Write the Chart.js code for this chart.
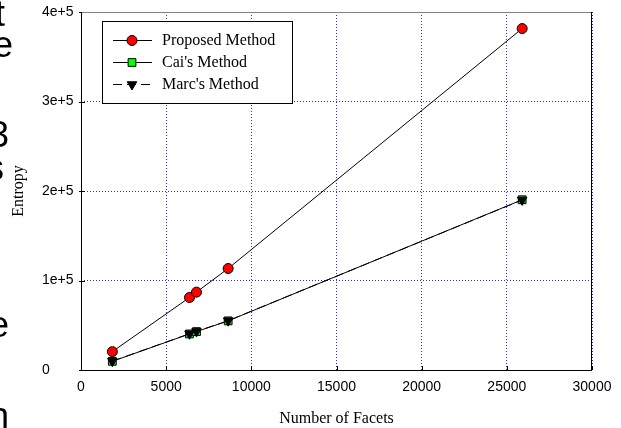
<!DOCTYPE html>
<html>
<head>
<meta charset="utf-8">
<script src="https://cdn.jsdelivr.net/npm/chart.js@4.4.0/dist/chart.umd.min.js"></script>
<style>
  body { margin: 0; background: #fff; overflow: hidden; }
  #contenedor { position: relative; width: 621px; height: 428px; }
  .letra { position: absolute; font-family: "Liberation Sans", Arial, sans-serif; font-size: 36px; line-height: 36px; color: #000; }
</style>
</head>
<body>
<div id="contenedor">
  <canvas id="grafica" width="621" height="428"></canvas>
  <!-- restos del texto de la pagina, cortados por el borde -->
  <span class="letra" style="left:-5px; top:-4px;">t</span>
  <span class="letra" style="left:-7px; top:27px;">e</span>
  <span class="letra" style="left:-11px; top:117px;">3</span>
  <span class="letra" style="left:-14px; top:150px;">s</span>
  <span class="letra" style="left:-11px; top:307px;">e</span>
  <span class="letra" style="left:-11px; top:398px;">n</span>
</div>
<script>
  //Datos Proposed Method
  const facetas_propuesto = [1840, 6370, 6780, 8640, 25900]
  const entropia_propuesto = [20500, 81000, 87000, 113400, 381500]
  //Datos Cai's Method
  const facetas_cai = [1840, 6370, 6780, 8640, 25900]
  const entropia_cai = [9700, 40300, 42900, 54900, 190200]
  //Datos Marc's Method
  const facetas_marc = [1840, 6370, 6780, 8640, 25900]
  const entropia_marc = [9900, 40500, 43100, 55100, 190000]

  const etiquetas = ["Proposed Method", "Cai's Method", "Marc's Method"]
  const etiquetas_x = ["0", "5000", "10000", "15000", "20000", "25000", "30000"]
  const etiquetas_y = ["0", "1e+5", "2e+5", "3e+5", "4e+5"]

  const $grafica = document.querySelector("#grafica");

  let puntos = function(xs, ys) {
      return xs.map(function(x, i) { return { x: x, y: ys[i] }; });
  }

  ///////////////////////////////////// bordes, marcas, titulos y leyenda /////////////////////////////////////
  const extras = {
      id: 'extras',
      afterDraw: function(chart) {
          const ctx = chart.ctx;
          const a = chart.chartArea;
          const sx = chart.scales.x, sy = chart.scales.y;
          ctx.save();
          // marcas hacia dentro
          ctx.strokeStyle = '#000';
          ctx.lineWidth = 1;
          ctx.beginPath();
          sx.ticks.forEach(function(t) {
              const px = Math.round(sx.getPixelForValue(t.value)) + 0.5;
              ctx.moveTo(px, a.bottom); ctx.lineTo(px, a.bottom - 4);
          });
          sy.ticks.forEach(function(t) {
              const py = Math.round(sy.getPixelForValue(t.value)) + 0.5;
              ctx.moveTo(a.left - 2, py); ctx.lineTo(a.left + 4, py);
          });
          ctx.stroke();
          // marco
          ctx.strokeStyle = '#808080';
          ctx.beginPath();
          ctx.moveTo(a.left, a.top + 0.5); ctx.lineTo(a.right, a.top + 0.5);
          ctx.stroke();
          ctx.strokeStyle = '#000';
          ctx.beginPath();
          ctx.moveTo(a.left + 0.5, a.top); ctx.lineTo(a.left + 0.5, a.bottom + 0.5);
          ctx.lineTo(a.right - 0.5, a.bottom + 0.5); ctx.lineTo(a.right - 0.5, a.top);
          ctx.stroke();
          // titulos de ejes
          ctx.fillStyle = '#000';
          ctx.font = '16px "Liberation Serif", "Times New Roman", serif';
          ctx.textAlign = 'center';
          ctx.textBaseline = 'alphabetic';
          ctx.fillText('Number of Facets', (a.left + a.right) / 2, 423);
          ctx.save();
          ctx.translate(19, (a.top + a.bottom) / 2);
          ctx.rotate(-Math.PI / 2);
          ctx.textBaseline = 'middle';
          ctx.fillText('Entropy', 0, 0);
          ctx.restore();
          // leyenda
          ctx.fillStyle = '#fff';
          ctx.fillRect(102, 21, 190, 82);
          ctx.strokeStyle = '#000';
          ctx.strokeRect(102.5, 21.5, 190, 82);
          const filas = [40, 62, 84];
          chart.data.datasets.forEach(function(ds, i) {
              const y = filas[i] + 0.5;
              ctx.strokeStyle = ds.borderColor;
              ctx.setLineDash(ds.borderDash || []);
              ctx.beginPath();
              ctx.moveTo(113, y); ctx.lineTo(152, y);
              ctx.stroke();
              ctx.setLineDash([]);
              ctx.fillStyle = ds.pointBackgroundColor;
              ctx.strokeStyle = ds.pointBorderColor;
              ctx.lineWidth = 1;
              Chart.helpers.drawPoint(ctx, {
                  pointStyle: ds.pointStyle, radius: ds.pointRadius,
                  rotation: ds.pointRotation || 0, borderWidth: 1
              }, 132, y);
              ctx.fillStyle = '#000';
              ctx.textAlign = 'left';
              ctx.textBaseline = 'middle';
              ctx.fillText(ds.label, 162, filas[i] + 1);
          });
          ctx.restore();
      }
  }

  new Chart($grafica, {
      type: 'line',
      data: {
          datasets: [
              {
                  label: etiquetas[0],
                  data: puntos(facetas_propuesto, entropia_propuesto),
                  borderColor: '#000', borderWidth: 1,
                  pointStyle: 'circle', pointRadius: 5,
                  pointBackgroundColor: '#ff0000', pointBorderColor: '#000', pointBorderWidth: 1
              },
              {
                  label: etiquetas[1],
                  data: puntos(facetas_cai, entropia_cai),
                  borderColor: '#000', borderWidth: 1,
                  pointStyle: 'rect', pointRadius: 5.5,
                  pointBackgroundColor: '#00ff00', pointBorderColor: '#000', pointBorderWidth: 1
              },
              {
                  label: etiquetas[2],
                  data: puntos(facetas_marc, entropia_marc),
                  borderColor: '#000', borderWidth: 1, borderDash: [9, 5],
                  pointStyle: 'triangle', pointRadius: 5.5, pointRotation: 180,
                  pointBackgroundColor: '#000', pointBorderColor: '#000', pointBorderWidth: 1,
                  order: -1
              }
          ]
      },
      options: {
          responsive: false,
          animation: false,
          events: [],
          layout: { padding: { left: 42, right: 29, top: 12, bottom: 0 } },
          elements: { line: { tension: 0 } },
          plugins: { legend: { display: false }, tooltip: { enabled: false } },
          scales: {
              x: {
                  type: 'linear', min: 0, max: 30000,
                  afterFit: function(s) { s.height = 58; },
                  ticks: {
                      stepSize: 5000, autoSkip: false, maxRotation: 0, padding: 9, color: '#000',
                      font: { family: '"Liberation Sans", Arial, sans-serif', size: 14 },
                      callback: function(v, i) { return etiquetas_x[i]; }
                  },
                  grid: { color: 'rgba(0,0,255,0.85)', lineWidth: 1, drawTicks: false },
                  border: { display: false, dash: [1, 2] }
              },
              y: {
                  min: 0, max: 400000,
                  afterFit: function(s) { s.width = 39; },
                  ticks: {
                      stepSize: 100000, autoSkip: false, crossAlign: 'far', color: '#000',
                      font: { family: '"Liberation Sans", Arial, sans-serif', size: 14 },
                      callback: function(v, i) { return etiquetas_y[i]; }
                  },
                  grid: { color: 'rgba(0,0,255,0.85)', lineWidth: 1, drawTicks: false },
                  border: { display: false, dash: [1, 2] }
              }
          }
      },
      plugins: [extras]
  });
</script>
</body>
</html>
